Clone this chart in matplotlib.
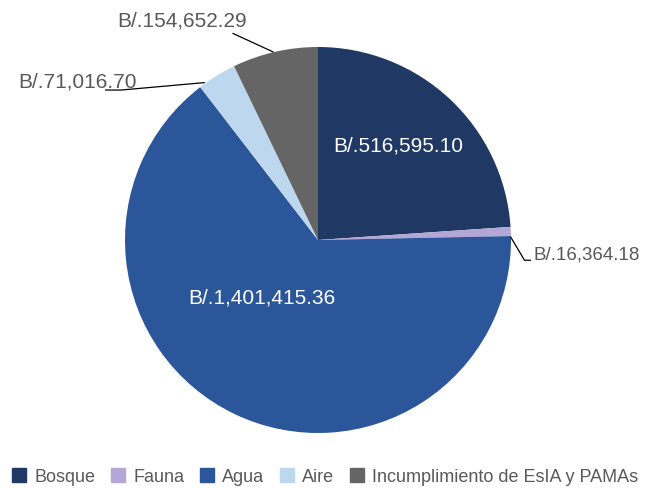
import matplotlib
matplotlib.use('Agg')
import matplotlib.pyplot as plt
import numpy as np
from matplotlib.lines import Line2D

plt.rcParams['font.family'] = ['Liberation Sans', 'DejaVu Sans']

CATEGORIES = ['Bosque', 'Fauna', 'Agua', 'Aire', 'Incumplimiento de EsIA y PAMAs']
VALUES = [516595.10, 16364.18, 1401415.36, 71016.70, 154652.29]
LABELS = ['B/.516,595.10', 'B/.16,364.18', 'B/.1,401,415.36', 'B/.71,016.70', 'B/.154,652.29']
COLORS = ['#1F3864', '#B4A7D6', '#2B579A', '#BDD7EE', '#656565']

LABEL_COLOR = '#595959'
FONT_SIZE = 15

fig = plt.figure(figsize=(6.5, 4.88), dpi=100)
ax = fig.add_axes([125 / 650, 55 / 488, 386 / 650, 386 / 488])

wedges, _ = ax.pie(VALUES, colors=COLORS, startangle=90, counterclock=False,
                   radius=1.0, wedgeprops=dict(linewidth=0))
ax.set_xlim(-1, 1)
ax.set_ylim(-1, 1)
ax.set_aspect('equal')
ax.axis('off')


def edge_point(w, r=1.0):
    ang = np.deg2rad((w.theta1 + w.theta2) / 2)
    return r * np.cos(ang), r * np.sin(ang)


# inside labels
ax.text(0.415, 0.487, LABELS[0], color='white', fontsize=FONT_SIZE, ha='center', va='center')
ax.text(-0.29, -0.30, LABELS[2], color='white', fontsize=FONT_SIZE, ha='center', va='center')

# Fauna (narrower in the original)
x0, y0 = edge_point(wedges[1])
ax.plot([x0, 1.07, 1.1], [y0 - 0.03, -0.105, -0.105], color='black', lw=0.9, clip_on=False)
ax.text(1.115, -0.08, LABELS[1], color=LABEL_COLOR, fontsize=13.5, ha='left', va='center')

# Aire
x0, y0 = edge_point(wedges[3], 0.97)
ax.plot([x0 - 0.08, -1.02, -1.1], [y0 - 0.01, 0.777, 0.777], color='black', lw=0.9, clip_on=False)
ax.text(-0.94, 0.82, LABELS[3], color=LABEL_COLOR, fontsize=FONT_SIZE, ha='right', va='center')

# Incumplimiento
x0, y0 = edge_point(wedges[4])
ax.plot([x0 - 0.01, -0.44], [y0, 1.07], color='black', lw=0.9, clip_on=False)
ax.text(-0.705, 1.135, LABELS[4], color=LABEL_COLOR, fontsize=FONT_SIZE, ha='center', va='center')

handles = [Line2D([0], [0], marker='s', linestyle='none', markersize=10,
                  markerfacecolor=c, markeredgecolor=c) for c in COLORS]
fig.legend(handles, CATEGORIES, loc='center', bbox_to_anchor=(0.5, 1 - 477 / 488),
           ncol=5, frameon=False, fontsize=13, handlelength=0.8, handletextpad=0.45,
           columnspacing=0.85, labelcolor=LABEL_COLOR)

fig.savefig('out.png', dpi=100)
